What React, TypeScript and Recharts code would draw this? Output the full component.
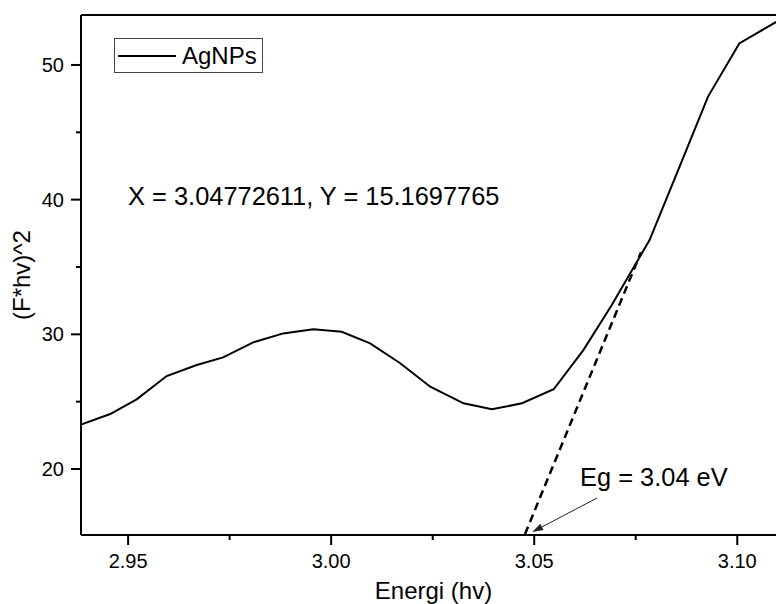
import {
  LineChart,
  Line,
  XAxis,
  YAxis,
  ReferenceLine,
  ReferenceDot,
  Legend,
} from "recharts";

const energy = [
  2.9384, 2.9456, 2.9521, 2.9595, 2.9669, 2.9734, 2.9808, 2.9882, 2.9956,
  3.0026, 3.0096, 3.017, 3.0244, 3.0326, 3.0396, 3.047, 3.0548, 3.0621,
  3.0691, 3.0784, 3.0858, 3.0928, 3.1005, 3.1096,
];
const fhv2 = [
  23.3, 24.08, 25.17, 26.9, 27.72, 28.29, 29.4, 30.07, 30.37, 30.19, 29.33,
  27.85, 26.11, 24.88, 24.43, 24.88, 25.92, 28.83, 32.17, 37.0, 42.45, 47.65,
  51.6, 53.2,
];

// tangent line used for the band-gap extrapolation
const tangentX = [3.04773, 3.0763];
const tangentY = [15.17, 36.1];

const xTicks = [2.95, 2.975, 3.0, 3.025, 3.05, 3.075, 3.1];
const xMajor = [2.95, 3.0, 3.05, 3.1];
const yTicks = [20, 25, 30, 35, 40, 45, 50];
const yMajor = [20, 30, 40, 50];

const X_DOMAIN = [2.9384, 3.112];
const Y_DOMAIN = [15.1, 53.71];

const data = energy.map((x, i) => ({ x, y: fhv2[i] }));
const tangent = tangentX.map((x, i) => ({ x, t: tangentY[i] }));

const FONT = "'Liberation Sans', Arial, sans-serif";

function XTick(props: any) {
  const { x, y, payload } = props;
  const major = xMajor.some((v) => Math.abs(v - payload.value) < 1e-6);
  return (
    <g>
      <line x1={x} x2={x} y1={y} y2={y + (major ? 10 : 5)} stroke="#000" strokeWidth={2} />
      {major && (
        <text x={x} y={y + 33} textAnchor="middle" fontSize={20} fontFamily={FONT} fill="#000">
          {payload.value.toFixed(2)}
        </text>
      )}
    </g>
  );
}

function YTick(props: any) {
  const { x, y, payload } = props;
  const major = yMajor.includes(payload.value);
  return (
    <g>
      <line x1={x} x2={x - (major ? 10 : 5)} y1={y} y2={y} stroke="#000" strokeWidth={2} />
      {major && (
        <text x={x - 17} y={y + 7} textAnchor="end" fontSize={20} fontFamily={FONT} fill="#000">
          {payload.value}
        </text>
      )}
    </g>
  );
}

function ArrowShape(props: any) {
  const { x1, y1, x2, y2 } = props;
  const ang = Math.atan2(y2 - y1, x2 - x1);
  const len = 11;
  const w = 3.5;
  const bx = x2 - len * Math.cos(ang);
  const by = y2 - len * Math.sin(ang);
  const px = -Math.sin(ang) * w;
  const py = Math.cos(ang) * w;
  return (
    <g>
      <line x1={x1} y1={y1} x2={bx} y2={by} stroke="#222" strokeWidth={1} />
      <polygon
        points={`${x2},${y2} ${bx + px},${by + py} ${bx - px},${by - py}`}
        fill="#222"
      />
    </g>
  );
}

function LegendBox() {
  return (
    <div
      style={{
        border: "1.5px solid #444",
        width: 149,
        height: 35,
        boxSizing: "border-box",
        display: "flex",
        alignItems: "center",
        fontFamily: FONT,
        fontSize: 24,
        color: "#000",
        background: "#fff",
      }}
    >
      <svg width={67} height={20}>
        <line x1={3} x2={61} y1={10} y2={10} stroke="#000" strokeWidth={2} />
      </svg>
      <span>AgNPs</span>
    </div>
  );
}

function textShape(value: string) {
  return (props: any) => (
    <text x={props.cx} y={props.cy} fontSize={25.4} fontFamily={FONT} fill="#000">
      {value}
    </text>
  );
}

export default function App() {
  return (
    <div
      style={{
        position: "absolute",
        left: 0,
        top: 0,
        width: 776,
        height: 604,
        overflow: "hidden",
        background: "#fff",
      }}
    >
      <LineChart
        width={786}
        height={604}
        data={data}
        margin={{ top: 15, right: 0, bottom: 0, left: 0 }}
      >
        <XAxis
          dataKey="x"
          type="number"
          domain={X_DOMAIN}
          allowDataOverflow
          ticks={xTicks}
          interval={0}
          height={69}
          tickSize={0}
          tickMargin={0}
          tickLine={false}
          tick={<XTick />}
          axisLine={{ stroke: "#000", strokeWidth: 2 }}
          label={{
            value: "Energi (hv)",
            position: "insideBottom",
            offset: 5,
            fontSize: 24,
            fontFamily: FONT,
            fill: "#000",
          }}
        />
        <YAxis
          type="number"
          domain={Y_DOMAIN}
          allowDataOverflow
          ticks={yTicks}
          interval={0}
          width={81}
          tickSize={0}
          tickMargin={0}
          tickLine={false}
          tick={<YTick />}
          axisLine={{ stroke: "#000", strokeWidth: 2 }}
          label={{
            value: "(F*hv)^2",
            angle: -90,
            position: "insideLeft",
            offset: 21,
            fontSize: 24,
            fontFamily: FONT,
            fill: "#000",
            style: { textAnchor: "middle" },
          }}
        />
        <ReferenceLine y={Y_DOMAIN[1]} stroke="#000" strokeWidth={2} ifOverflow="extendDomain" />
        <Legend
          layout="vertical"
          verticalAlign="middle"
          align="center"
          wrapperStyle={{ top: 38, left: 114, width: 150 }}
          content={<LegendBox />}
        />
        <Line
          dataKey="y"
          type="linear"
          stroke="#000"
          strokeWidth={2}
          dot={false}
          isAnimationActive={false}
        />
        <Line
          data={tangent}
          dataKey="t"
          type="linear"
          stroke="#000"
          strokeWidth={2.5}
          strokeDasharray="8 5"
          dot={false}
          legendType="none"
          isAnimationActive={false}
        />
        <ReferenceLine
          segment={[
            { x: 3.0655, y: 17.85 },
            { x: 3.0495, y: 15.32 },
          ]}
          shape={<ArrowShape />}
        />
        <ReferenceDot
          x={2.95}
          y={39.6}
          r={0}
          shape={textShape("X = 3.04772611, Y = 15.1697765")}
        />
        <ReferenceDot x={3.0613} y={18.74} r={0} shape={textShape("Eg = 3.04 eV")} />
      </LineChart>
    </div>
  );
}
